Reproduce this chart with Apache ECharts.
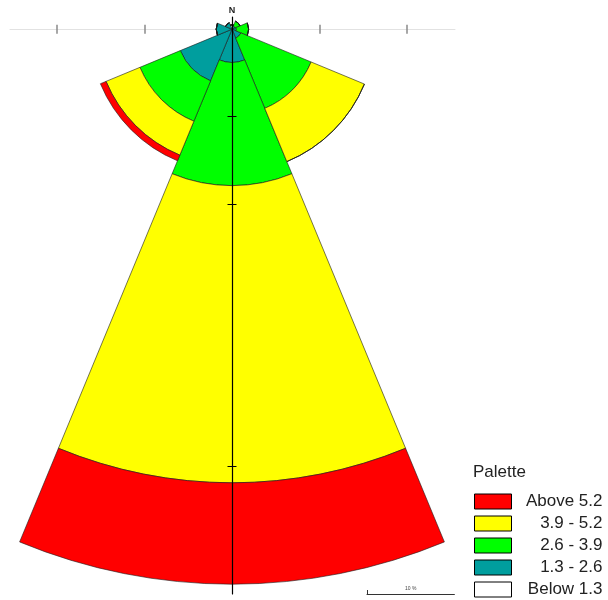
<!DOCTYPE html>
<html>
<head>
<meta charset="utf-8">
<script src="https://cdn.jsdelivr.net/npm/echarts@6/dist/echarts.min.js"></script>
<style>
  html, body { margin: 0; padding: 0; background: #fff; }
  #chart { width: 608px; height: 600px; }
</style>
</head>
<body>
<div id="chart"></div>
<script>
// wind directions, clockwise from north
const directions = ['N', 'NE', 'E', 'SE', 'S', 'SW', 'W', 'NW'];
// frequency (%) of each speed class per direction
const below13 = [0.5, 0.1, 0.1, 0.1, 0.1, 0.1, 0.1, 0.1];
const from13to26 = [0, 0.3, 0.4, 1.0, 3.7, 6.3, 1.7, 0.7];
const from26to39 = [0, 0.6, 1.4, 8.7, 14.1, 5.0, 0, 0];
const from39to52 = [0, 0, 0, 6.6, 34.0, 4.2, 0, 0];
const above52 = [0, 0, 0, 0, 11.6, 0.7, 0, 0];
const classNames = ['Below 1.3', '1.3 - 2.6', '2.6 - 3.9', '3.9 - 5.2', 'Above 5.2'];
const classColors = ['#ffffff', '#009e9e', '#00ff00', '#ffff00', '#ff0000'];
// axis ticks (%)
const crossTicks = [-20, -10, 10, 20];
const southTicks = [10, 20, 50];
const scaleBar = 10;

const chart = echarts.init(document.getElementById('chart'));

// pixels per percent, rose centre
const k = 8.74;
const cx = 232, cy = 29.2;
const gLeft = 10, gRight = 455, gTop = 17, gBottom = 594;
const rMax = 65;

const classData = [below13, from13to26, from26to39, from39to52, above52];

const series = classData.map((d, i) => ({
  name: classNames[i],
  type: 'bar',
  coordinateSystem: 'polar',
  stack: 'rose',
  data: d,
  barCategoryGap: '0%',
  z: 2,
  itemStyle: { color: classColors[i], borderColor: '#1a1a1a', borderWidth: 0.6 }
}));

const xCommon = {
  type: 'value',
  min: -(cx - gLeft) / k,
  max: (gRight - cx) / k,
  axisLine: { onZero: true, onZeroAxisIndex: 0, lineStyle: { color: '#e2e2e2', width: 1 } },
  axisTick: { customValues: crossTicks, length: 4.5, lineStyle: { color: '#8a8a8a', width: 1.5 } },
  axisLabel: { show: false },
  splitLine: { show: false },
  z: 0
};
const yCommon = {
  type: 'value',
  inverse: true,
  min: -(cy - gTop) / k,
  max: (gBottom - cy) / k,
  axisLine: { onZero: true, onZeroAxisIndex: 0, lineStyle: { color: '#000', width: 1.2 } },
  axisTick: { customValues: southTicks, length: 4.5, lineStyle: { color: '#000', width: 1 } },
  axisLabel: { show: false },
  splitLine: { show: false },
  z: 5
};

const option = {
  animation: false,
  title: [{
    text: 'Palette',
    left: 473,
    top: 464,
    padding: 0,
    textStyle: { fontSize: 17, fontWeight: 'normal', color: '#222', fontFamily: 'Liberation Sans' }
  }],
  legend: {
    data: classNames.slice().reverse(),
    orient: 'vertical',
    left: 474,
    top: 493,
    padding: 0,
    itemWidth: 37,
    itemHeight: 15,
    itemGap: 5,
    icon: 'rect',
    selectedMode: false,
    itemStyle: { borderColor: '#000', borderWidth: 1 },
    formatter: name => '{r|' + name + '}',
    textStyle: {
      rich: {
        r: { width: 86, align: 'right', fontSize: 17, lineHeight: 16, color: '#222', fontFamily: 'Liberation Sans' }
      }
    }
  },
  grid: [
    { left: gLeft, top: gTop, width: gRight - gLeft, height: gBottom - gTop },
    { left: 367, top: 594, width: scaleBar * k, height: 1 }
  ],
  xAxis: [
    Object.assign({}, xCommon, { gridIndex: 0, position: 'bottom' }),
    Object.assign({}, xCommon, { gridIndex: 0, position: 'top', axisLine: { show: false, onZero: true, onZeroAxisIndex: 0 } }),
    {
      type: 'value', gridIndex: 1, position: 'top', min: 0, max: scaleBar,
      name: scaleBar + ' %', nameLocation: 'middle', nameGap: 3,
      nameTextStyle: { fontSize: 5, color: '#444' },
      axisLine: { onZero: false, lineStyle: { color: '#333', width: 1 } },
      axisTick: { customValues: [0], length: 4, lineStyle: { color: '#333' } },
      axisLabel: { show: false },
      splitLine: { show: false }
    }
  ],
  yAxis: [
    Object.assign({}, yCommon, {
      gridIndex: 0, position: 'left',
      name: 'N', nameLocation: 'start', nameGap: 2,
      nameTextStyle: { fontSize: 9, fontWeight: 'bold', color: '#222' }
    }),
    Object.assign({}, yCommon, { gridIndex: 0, position: 'right', axisLine: { show: false, onZero: true, onZeroAxisIndex: 0 } }),
    { type: 'value', gridIndex: 1, show: false }
  ],
  polar: { center: [cx, cy], radius: rMax * k },
  angleAxis: {
    type: 'category',
    data: directions,
    startAngle: 90 + 180 / directions.length,
    clockwise: true,
    axisLine: { show: false },
    axisTick: { show: false },
    axisLabel: { show: false },
    splitLine: { show: false }
  },
  radiusAxis: {
    min: 0,
    max: rMax,
    axisLine: { show: false },
    axisTick: { show: false },
    axisLabel: { show: false },
    splitLine: { show: false }
  },
  series: series
};

chart.setOption(option);
</script>
</body>
</html>
